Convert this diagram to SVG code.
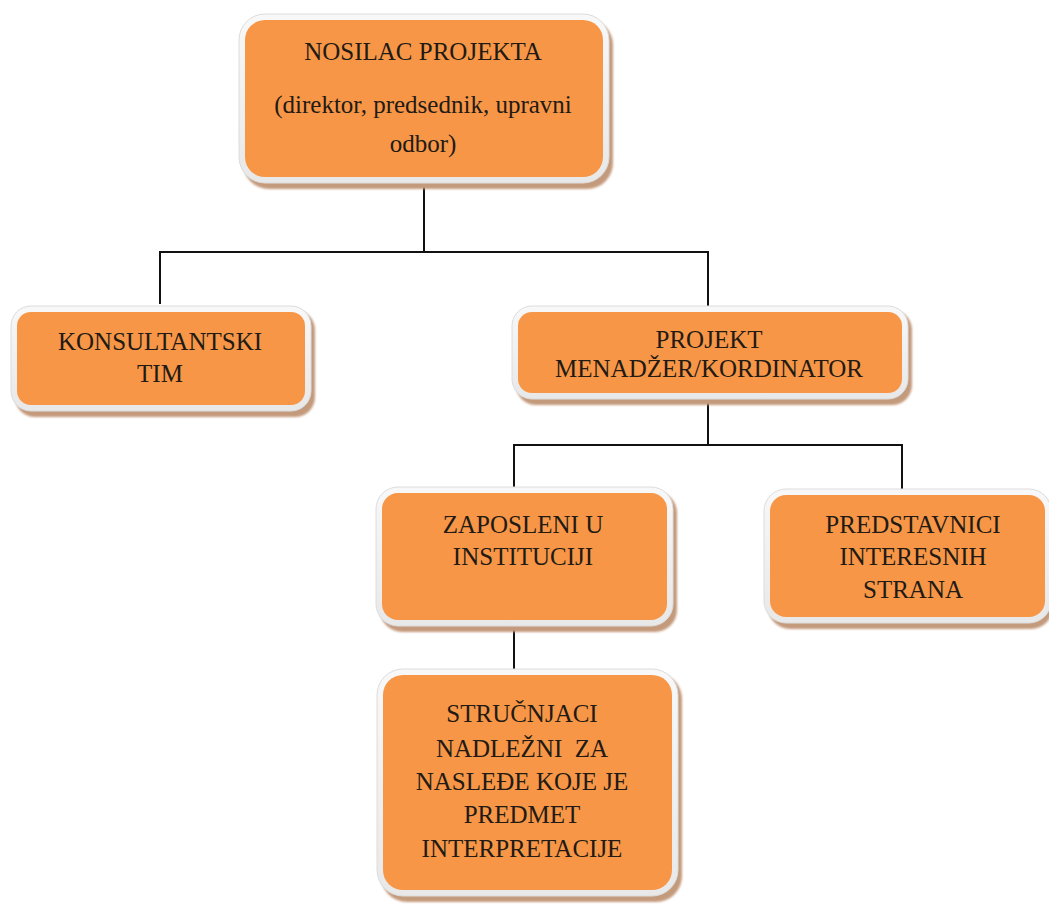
<svg xmlns="http://www.w3.org/2000/svg" width="1049" height="907" viewBox="0 0 1049 907">
  <defs>
    <filter id="soft" x="-5%" y="-5%" width="110%" height="110%">
      <feGaussianBlur stdDeviation="1.2"/>
    </filter>
    <linearGradient id="rim" x1="0" y1="0" x2="0" y2="1">
      <stop offset="0" stop-color="#f8f8f8"/>
      <stop offset="1" stop-color="#e8e8e8"/>
    </linearGradient>
  </defs>
  <style>
    .shadow { fill: #c49a7c; filter: url(#soft); }
    .rim { fill: url(#rim); stroke: #dcdcdc; stroke-width: 1; }
    .fill { fill: #f79646; }
    .label { font-family: "Liberation Serif", "Times New Roman", serif; font-size: 25px; fill: #221a15; text-anchor: middle; }
    .wire { fill: none; stroke: #111111; stroke-width: 2; }
  </style>
  <rect width="1049" height="907" fill="#ffffff"/>

  <!-- connectors -->
  <g id="connectors">
    <path class="wire" d="M424 184 V252 M160 304 V252 H708 V306"/>
    <path class="wire" d="M708 400 V445 M514 488 V445 H902 V490"/>
    <path class="wire" d="M514 627 V673"/>
  </g>

  <!-- top node -->
  <g id="nosilac">
    <rect class="shadow" x="243" y="19" width="370" height="170" rx="26"/>
    <rect class="rim" x="239" y="14" width="370" height="169" rx="26"/>
    <rect class="fill" x="245" y="20" width="358" height="157" rx="20"/>
    <text class="label" x="423" y="60">NOSILAC PROJEKTA</text>
    <text class="label" x="423" y="113">(direktor, predsednik, upravni</text>
    <text class="label" x="423" y="152">odbor)</text>
  </g>

  <g id="konsultantski">
    <rect class="shadow" x="15" y="310" width="300" height="107" rx="20"/>
    <rect class="rim" x="11" y="306" width="300" height="105" rx="20"/>
    <rect class="fill" x="17" y="312" width="288" height="93" rx="14"/>
    <text class="label" x="160" y="350">KONSULTANTSKI</text>
    <text class="label" x="160" y="382">TIM</text>
  </g>

  <g id="projekt">
    <rect class="shadow" x="516" y="310" width="396" height="95" rx="20"/>
    <rect class="rim" x="512" y="306" width="396" height="93" rx="20"/>
    <rect class="fill" x="518" y="312" width="384" height="81" rx="14"/>
    <text class="label" x="709" y="348">PROJEKT</text>
    <text class="label" x="709" y="377">MENADŽER/KORDINATOR</text>
  </g>

  <g id="zaposleni">
    <rect class="shadow" x="380" y="491" width="297" height="141" rx="22"/>
    <rect class="rim" x="376" y="487" width="297" height="139" rx="22"/>
    <rect class="fill" x="382" y="493" width="285" height="127" rx="16"/>
    <text class="label" x="523" y="533">ZAPOSLENI U</text>
    <text class="label" x="523" y="565">INSTITUCIJI</text>
  </g>

  <g id="predstavnici">
    <rect class="shadow" x="768" y="493" width="285" height="136" rx="22"/>
    <rect class="rim" x="764" y="489" width="287" height="134" rx="22"/>
    <rect class="fill" x="770" y="495" width="275" height="122" rx="16"/>
    <text class="label" x="913" y="533">PREDSTAVNICI</text>
    <text class="label" x="913" y="565">INTERESNIH</text>
    <text class="label" x="913" y="598">STRANA</text>
  </g>

  <g id="strucnjaci">
    <rect class="shadow" x="381" y="673" width="301" height="229" rx="26"/>
    <rect class="rim" x="377" y="669" width="301" height="227" rx="26"/>
    <rect class="fill" x="383" y="675" width="289" height="215" rx="20"/>
    <text class="label" x="522" y="722">STRUČNJACI</text>
    <text class="label" x="522" y="757" xml:space="preserve">NADLEŽNI  ZA</text>
    <text class="label" x="522" y="790">NASLEĐE KOJE JE</text>
    <text class="label" x="522" y="823">PREDMET</text>
    <text class="label" x="522" y="857">INTERPRETACIJE</text>
  </g>
</svg>
